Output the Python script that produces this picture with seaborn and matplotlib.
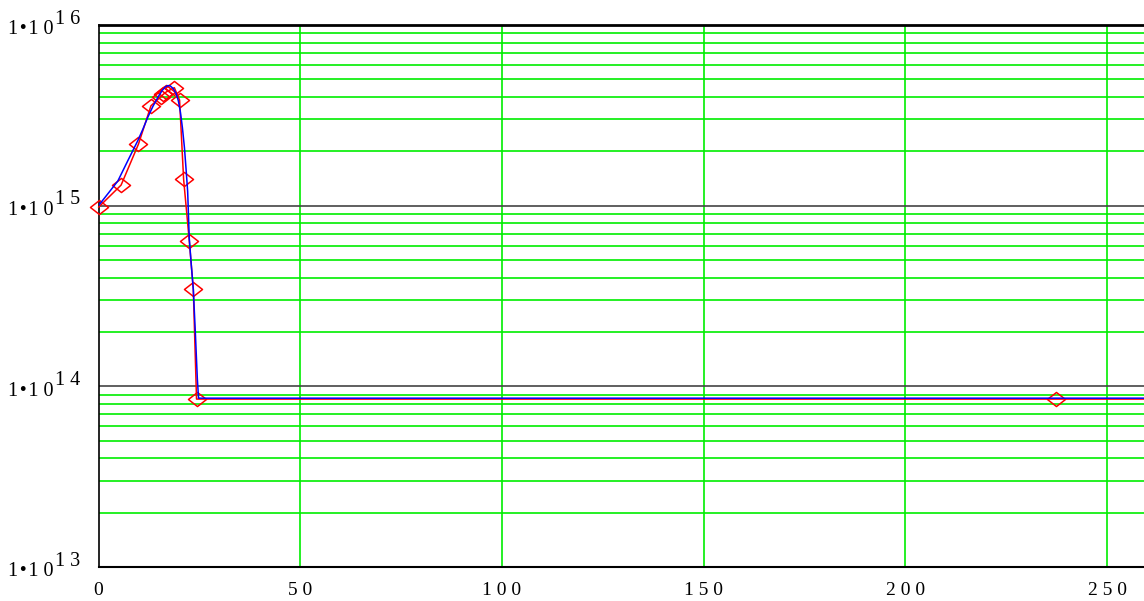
import numpy as np
import pandas as pd
import matplotlib
matplotlib.use("Agg")
import matplotlib.pyplot as plt
from matplotlib.path import Path
from matplotlib.transforms import offset_copy
import seaborn as sns

# Measured concentration (red, with markers)
meas_t = [0, 5.6, 9.9, 13.0, 15.4, 16.1, 16.8, 18.8, 20.1, 21.1, 22.5, 23.5, 24.3, 237.4, 280.0]
meas_n = [9.8e14, 1.3e15, 2.19e15, 3.57e15, 4.0e15, 4.14e15, 4.26e15, 4.5e15, 3.84e15,
          1.4e15, 6.4e14, 3.45e14, 8.5e13, 8.5e13, 8.5e13]

# Model curve (blue)
model_t = [0, 2.4, 4.8, 7.3, 9.7, 11.0, 12.2, 13.5, 14.7, 15.8, 16.6, 17.2, 17.8, 18.5,
           19.2, 19.8, 20.3, 20.8, 21.3, 21.7, 22.1, 22.5, 23.0, 23.5, 24.0, 24.5, 24.8, 280.0]
model_n = [1.0e15, 1.17e15, 1.37e15, 1.78e15, 2.28e15, 2.65e15, 3.08e15, 3.55e15, 3.97e15,
           4.35e15, 4.55e15, 4.62e15, 4.6e15, 4.45e15, 4.2e15, 3.8e15, 3.3e15, 2.7e15,
           2.1e15, 1.6e15, 1.2e15, 6.6e14, 4.7e14, 3.45e14, 2.0e14, 1.1e14, 8.6e13, 8.6e13]

x_ticks = [0, 50, 100, 150, 200, 250]
x_labels = ["0", "5 0", "1 0 0", "1 5 0", "2 0 0", "2 5 0"]
y_decades = [13, 14, 15, 16]

sns.set_theme(style="white")
plt.rcParams["font.family"] = ["Liberation Serif", "DejaVu Serif"]

W, H = 1144, 601
fig = plt.figure(figsize=(W / 100, H / 100), dpi=100)
left_px, right_px, top_px, bot_px = 98.5, 1144, 25, 567
ax = fig.add_axes([left_px / W, 1 - bot_px / H, (right_px - left_px) / W, (bot_px - top_px) / H])
ax.set_facecolor("white")

ax.set_yscale("log")
ax.set_xlim(0, (right_px - left_px) / 4.034)
ax.set_ylim(1e13, 1e16)

# grid: green minor decades, black decade lines, green vertical lines
for d in y_decades[:-1]:
    for m in range(2, 10):
        ax.axhline(m * 10.0 ** d, color="#00ee00", lw=1.2, zorder=1)
for d in y_decades[1:-1]:
    ax.axhline(10.0 ** d, color="#444444", lw=1.2, zorder=1.5)
for xt in x_ticks[1:]:
    ax.axvline(xt, color="#00ee00", lw=1.2, zorder=1)

meas = pd.DataFrame({"t": meas_t, "n": meas_n})
model = pd.DataFrame({"t": model_t, "n": model_n})

diamond = Path([(-1, 0), (0, 0.78), (1, 0), (0, -0.78), (-1, 0)],
               [Path.MOVETO, Path.LINETO, Path.LINETO, Path.LINETO, Path.CLOSEPOLY])

sns.lineplot(data=meas, x="t", y="n", ax=ax, sort=False, estimator=None,
             color="red", lw=1.1, marker=diamond, markersize=13,
             markerfacecolor="none", markeredgecolor="red", markeredgewidth=1.1,
             zorder=3, clip_on=False)
sns.lineplot(data=model, x="t", y="n", ax=ax, sort=False, estimator=None,
             color="blue", lw=1.1, zorder=4)

ax.set_xlabel("")
ax.set_ylabel("")

# spines
for s in ["top", "bottom", "left"]:
    ax.spines[s].set_visible(True)
    ax.spines[s].set_color("black")
ax.spines["top"].set_linewidth(2.0)
ax.spines["bottom"].set_linewidth(1.5)
ax.spines["left"].set_linewidth(1.2)
ax.spines["right"].set_visible(False)

# x ticks
ax.set_xticks(x_ticks)
ax.set_xticklabels(x_labels)
ax.tick_params(axis="x", length=0, pad=11, labelsize=14, colors="black")

# y ticks: drawn as "1•1 0" with raised exponent
ax.set_yticks([10.0 ** d for d in y_decades])
ax.yaxis.set_minor_locator(matplotlib.ticker.NullLocator())
ax.set_yticklabels([])
ax.tick_params(axis="y", length=0)
ytr = ax.get_yaxis_transform()
for d in y_decades:
    base = offset_copy(ytr, fig=fig, x=-(left_px - 53), y=-5, units="dots")
    sup = offset_copy(ytr, fig=fig, x=-(left_px - 55), y=6, units="dots")
    ax.text(0, 10.0 ** d, "1\u200a•\u200a1 0", transform=base, ha="right", va="center",
            fontsize=14.5, color="black", clip_on=False)
    ax.text(0, 10.0 ** d, " ".join(str(d)), transform=sup, ha="left", va="center",
            fontsize=14.5, color="black", clip_on=False)

fig.savefig("out.png", dpi=100, facecolor="white")
